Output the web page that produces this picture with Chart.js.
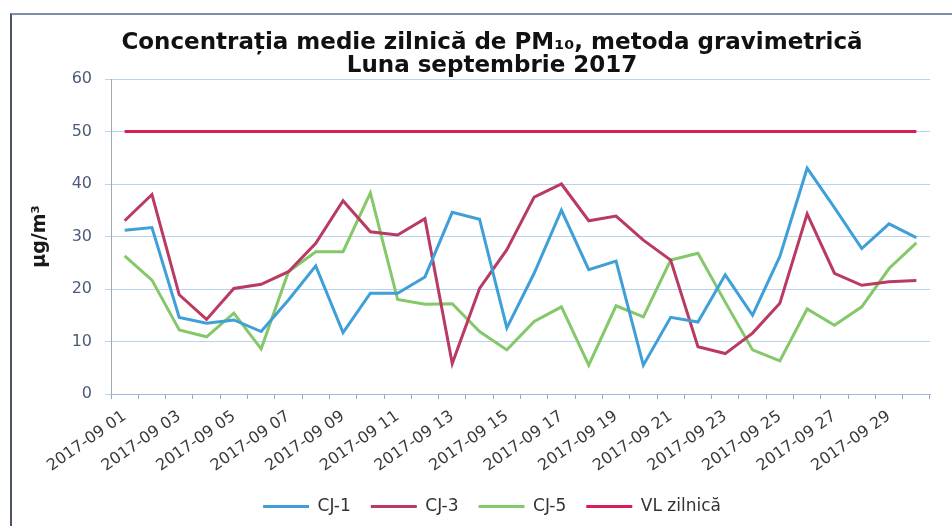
<!DOCTYPE html>
<html>
<head>
<meta charset="utf-8">
<script src="https://cdn.jsdelivr.net/npm/chart.js@4.4.1/dist/chart.umd.min.js"></script>
<style>
  html, body { margin: 0; padding: 0; background: #fff; overflow: hidden; }
  body { width: 952px; height: 526px; position: relative; }
  #frame {
    position: absolute; left: 10px; top: 13px;
    width: 960px; height: 520px;
    border-left: 2px solid #4b5566;
    border-top: 2px solid #7d8fa8;
  }
</style>
</head>
<body>
<div id="frame"><canvas id="pmChart" width="960" height="513"></canvas></div>
<script>
// zilele lunii (categorii)
const zile = [
  '2017-09 01', '2017-09 02', '2017-09 03', '2017-09 04', '2017-09 05',
  '2017-09 06', '2017-09 07', '2017-09 08', '2017-09 09', '2017-09 10',
  '2017-09 11', '2017-09 12', '2017-09 13', '2017-09 14', '2017-09 15',
  '2017-09 16', '2017-09 17', '2017-09 18', '2017-09 19', '2017-09 20',
  '2017-09 21', '2017-09 22', '2017-09 23', '2017-09 24', '2017-09 25',
  '2017-09 26', '2017-09 27', '2017-09 28', '2017-09 29', '2017-09 30'
];

const cj1 = [31.2, 31.7, 14.6, 13.5, 14.1, 11.9, 17.9, 24.4, 11.7, 19.2,
             19.2, 22.3, 34.6, 33.3, 12.6, 23.0, 35.0, 23.7, 25.3, 5.5,
             14.6, 13.7, 22.7, 15.0, 26.2, 43.0, 35.5, 27.7, 32.4, 29.8];

const cj3 = [33.0, 38.0, 18.9, 14.2, 20.1, 20.9, 23.3, 28.7, 36.8, 30.9,
             30.3, 33.4, 5.8, 20.1, 27.5, 37.5, 40.0, 33.0, 33.9, 29.3,
             25.5, 9.0, 7.7, 11.6, 17.3, 34.3, 23.0, 20.7, 21.4, 21.6];

const cj5 = [26.3, 21.7, 12.2, 10.9, 15.4, 8.6, 23.3, 27.1, 27.1, 38.3,
             18.0, 17.1, 17.2, 11.9, 8.4, 13.8, 16.6, 5.5, 16.8, 14.7,
             25.5, 26.8, 17.5, 8.4, 6.3, 16.2, 13.1, 16.6, 23.9, 28.8];

// valoarea limita zilnica
const vl = [50, 50, 50, 50, 50, 50, 50, 50, 50, 50,
            50, 50, 50, 50, 50, 50, 50, 50, 50, 50,
            50, 50, 50, 50, 50, 50, 50, 50, 50, 50];

const yTicks = [0, 10, 20, 30, 40, 50, 60];

const ctx = document.getElementById('pmChart').getContext('2d');

function serie(label, data, color) {
  return {
    label: label,
    data: data,
    borderColor: color,
    backgroundColor: color,
    borderWidth: 3,
    pointRadius: 0,
    tension: 0
  };
}

const myChart = new Chart(ctx, {
  type: 'line',
  data: {
    labels: zile,
    datasets: [
      serie('CJ-1', cj1, '#3f9fd8'),
      serie('CJ-3', cj3, '#b93a62'),
      serie('CJ-5', cj5, '#84c86a'),
      serie('VL zilnică', vl, '#d81f55')
    ]
  },
  options: {
    responsive: false,
    animation: false,
    layout: { padding: { left: 42, right: 42, top: 0, bottom: 3 } },
    plugins: {
      title: {
        display: true,
        text: ['Concentrația medie zilnică de PM₁₀, metoda gravimetrică', 'Luna septembrie 2017'],
        color: '#111',
        font: { family: 'DejaVu Sans', size: 23, weight: 'bold', lineHeight: 1 },
        padding: { top: 16.5, bottom: 1.5 }
      },
      legend: {
        position: 'bottom',
        labels: {
          usePointStyle: true,
          pointStyle: 'line',
          pointStyleWidth: 46,
          padding: 20,
          color: '#333',
          font: { family: 'DejaVu Sans', size: 17 }
        }
      },
      tooltip: { enabled: false }
    },
    scales: {
      x: {
        type: 'category',
        offset: true,
        grid: {
          offset: true,
          drawOnChartArea: false,
          drawTicks: true,
          tickLength: 5,
          color: '#8fa8c8'
        },
        border: { display: true, color: '#9dbbe0', width: 1 },
        ticks: {
          autoSkip: false,
          maxRotation: 35,
          minRotation: 35,
          padding: 8,
          color: '#3a3a3a',
          font: { family: 'DejaVu Sans', size: 16 },
          callback: function (val, index) {
            return index % 2 === 0 ? zile[index] : '';
          }
        },
        afterFit: function (scale) { scale.height = 84; }
      },
      y: {
        min: 0,
        max: 60,
        afterBuildTicks: function (scale) {
          scale.ticks = yTicks.map(function (v) { return { value: v }; });
        },
        grid: { color: '#b9d3ec', lineWidth: 1, tickLength: 6 },
        border: { display: true, color: '#a0a8b2', width: 1 },
        ticks: {
          padding: 13,
          color: '#4d5b78',
          font: { family: 'DejaVu Sans', size: 16 }
        },
        title: {
          display: true,
          text: 'µg/m³',
          color: '#1a1a1a',
          font: { family: 'DejaVu Sans', size: 19, weight: 'bold' },
          padding: { top: -25, bottom: 0 }
        },
        afterFit: function (scale) { scale.width = 57; }
      }
    }
  }
});
</script>
</body>
</html>
